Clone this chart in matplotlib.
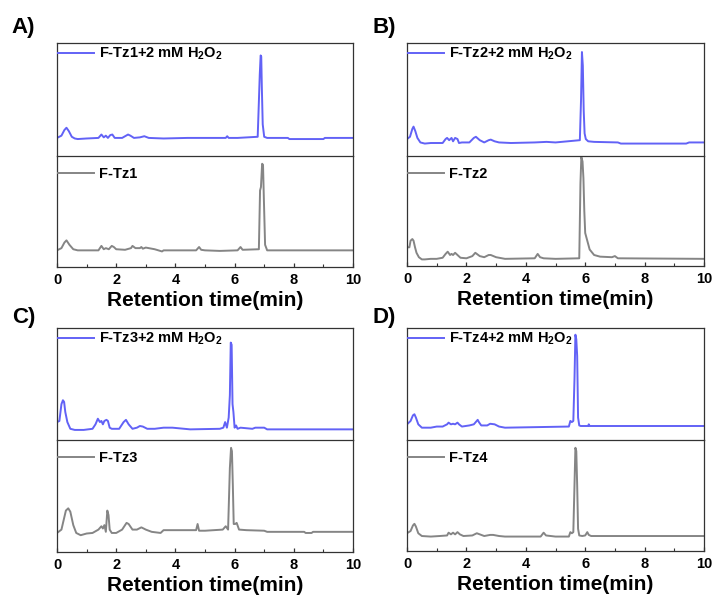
import matplotlib
matplotlib.use("Agg")
import matplotlib.pyplot as plt

plt.rcParams['font.family'] = ['Liberation Sans', 'DejaVu Sans']
plt.rcParams['font.weight'] = 'bold'
plt.rcParams['mathtext.fontset'] = 'custom'
plt.rcParams['mathtext.rm'] = 'Liberation Sans:bold'
plt.rcParams['mathtext.it'] = 'Liberation Sans:bold'
plt.rcParams['mathtext.bf'] = 'Liberation Sans:bold'

BLUE = '#6262f6'
GRAY = '#858585'

# HPLC traces, intensity normalised to each sub-panel (0..1)
# A) F-Tz1
a_h2o2_t = [0, 0.15, 0.25, 0.32, 0.4, 0.5, 0.6, 0.7, 1.0, 1.4, 1.5, 1.58, 1.65, 1.72, 1.8, 1.87, 1.95, 2.2, 2.4,
            2.48, 2.6, 2.8, 2.95, 3.1, 3.6, 4.4, 5.7, 5.75, 5.8, 6.1, 6.78, 6.82, 6.85, 6.88, 6.9, 6.92, 6.95,
            7.0, 7.1, 7.8, 7.85, 9.0, 9.05, 10]
a_h2o2_y = [0.16, 0.18, 0.23, 0.25, 0.22, 0.17, 0.155, 0.15, 0.155, 0.16, 0.19, 0.165, 0.18, 0.16, 0.185, 0.19,
            0.16, 0.16, 0.19, 0.18, 0.16, 0.165, 0.175, 0.16, 0.155, 0.16, 0.16, 0.175, 0.16, 0.16, 0.17, 0.48,
            0.72, 0.89, 0.88, 0.61, 0.28, 0.17, 0.16, 0.16, 0.15, 0.15, 0.16, 0.16]
a_ctrl_t = [0, 0.15, 0.25, 0.32, 0.42, 0.55, 0.7, 1.0, 1.4, 1.5, 1.58, 1.65, 1.75, 1.85, 1.92, 2.0, 2.3, 2.5, 2.55,
            2.65, 2.8, 2.85, 2.9, 3.0, 3.1, 3.3, 3.55, 3.6, 4.7, 4.8, 4.87, 5.0, 5.5, 6.1, 6.2, 6.27, 6.82, 6.86,
            6.89, 6.93, 6.96, 6.99, 7.03, 7.1, 10]
a_ctrl_y = [0.15, 0.17, 0.22, 0.24, 0.2, 0.16, 0.15, 0.15, 0.15, 0.19, 0.16, 0.17, 0.16, 0.19, 0.18, 0.16, 0.155,
            0.17, 0.19, 0.17, 0.17, 0.18, 0.165, 0.175, 0.17, 0.16, 0.14, 0.15, 0.15, 0.18, 0.155, 0.15, 0.145,
            0.15, 0.18, 0.155, 0.16, 0.69, 0.72, 0.93, 0.92, 0.6, 0.2, 0.15, 0.15]

# B) F-Tz2
b_h2o2_t = [0, 0.1, 0.18, 0.22, 0.28, 0.35, 0.45, 0.6, 0.8, 1.2, 1.3, 1.35, 1.42, 1.5, 1.55, 1.62, 1.7, 1.75, 1.85,
            2.1, 2.25, 2.32, 2.45, 2.6, 2.75, 2.82, 2.95, 3.1, 3.5, 4.3, 4.7, 5.0, 5.82, 5.86, 5.89, 5.92, 5.95,
            5.98, 6.02, 6.1, 6.3, 7.1, 7.2, 9.4, 9.5, 10]
b_h2o2_y = [0.15, 0.17, 0.24, 0.26, 0.22, 0.16, 0.12, 0.11, 0.115, 0.115, 0.15, 0.16, 0.14, 0.16, 0.13, 0.16, 0.15,
            0.115, 0.12, 0.12, 0.16, 0.17, 0.14, 0.12, 0.14, 0.145, 0.13, 0.12, 0.115, 0.12, 0.125, 0.12, 0.14,
            0.5, 0.92, 0.8, 0.4, 0.2, 0.15, 0.13, 0.125, 0.12, 0.11, 0.11, 0.12, 0.12]
b_ctrl_t = [0, 0.08, 0.12, 0.18, 0.22, 0.27, 0.32, 0.4, 0.5, 0.6, 0.8, 1.0, 1.2, 1.3, 1.37, 1.45, 1.5, 1.55, 1.62,
            1.7, 1.8, 2.0, 2.2, 2.3, 2.45, 2.6, 2.75, 2.82, 3.0, 3.3, 4.3, 4.4, 4.48, 4.6, 5.0, 5.8, 5.84, 5.87,
            5.91, 5.94, 5.97, 6.0, 6.05, 6.15, 6.3, 6.5, 6.9, 7.0, 7.1, 10]
b_ctrl_y = [0.17, 0.17, 0.23, 0.245, 0.23, 0.17, 0.12, 0.08, 0.06, 0.06, 0.065, 0.065, 0.075, 0.11, 0.13, 0.1,
            0.11, 0.1, 0.12, 0.1, 0.075, 0.07, 0.09, 0.12, 0.09, 0.08, 0.1, 0.1, 0.08, 0.065, 0.07, 0.11, 0.08,
            0.07, 0.065, 0.07, 0.75, 0.99, 0.95, 0.8, 0.5, 0.3, 0.25, 0.15, 0.1, 0.085, 0.08, 0.09, 0.07, 0.065]

# C) F-Tz3
c_h2o2_t = [0, 0.08, 0.15, 0.2, 0.24, 0.28, 0.35, 0.45, 0.6, 0.9, 1.2, 1.3, 1.38, 1.45, 1.5, 1.55, 1.6, 1.67, 1.72,
            1.78, 1.85, 2.1, 2.25, 2.33, 2.42, 2.55, 2.7, 2.8, 2.9, 3.05, 3.3, 3.6, 3.9, 4.5, 5.5, 5.62, 5.68,
            5.74, 5.8, 5.84, 5.87, 5.9, 5.93, 5.96, 6.0, 6.05, 6.1, 6.2, 6.6, 6.7, 7.0, 7.1, 10]
c_h2o2_y = [0.16, 0.17, 0.32, 0.355, 0.34, 0.25, 0.16, 0.1, 0.09, 0.09, 0.1, 0.14, 0.19, 0.16, 0.17, 0.14, 0.17,
            0.18, 0.17, 0.11, 0.1, 0.1, 0.16, 0.18, 0.14, 0.1, 0.11, 0.125, 0.12, 0.1, 0.1, 0.11, 0.11, 0.095, 0.1,
            0.11, 0.16, 0.11, 0.2, 0.4, 0.87, 0.85, 0.32, 0.25, 0.11, 0.13, 0.1, 0.11, 0.1, 0.11, 0.11, 0.095,
            0.095]
c_ctrl_t = [0, 0.15, 0.3, 0.38, 0.45, 0.55, 0.65, 0.8, 1.0, 1.2, 1.4, 1.5, 1.55, 1.6, 1.65, 1.7, 1.74, 1.78, 1.85,
            2.0, 2.2, 2.35, 2.42, 2.55, 2.7, 2.85, 3.0, 3.2, 3.5, 3.6, 4.7, 4.75, 4.8, 5.0, 5.6, 5.7, 5.78, 5.84,
            5.88, 5.91, 5.94, 5.97, 6.02, 6.07, 6.15, 6.4, 7.0, 7.1, 8.35, 8.4, 8.6, 8.65, 10]
c_ctrl_y = [0.17, 0.2, 0.37, 0.39, 0.36, 0.24, 0.17, 0.15, 0.165, 0.17, 0.2, 0.23, 0.21, 0.24, 0.18, 0.37, 0.33,
            0.2, 0.17, 0.17, 0.2, 0.26, 0.25, 0.2, 0.2, 0.22, 0.2, 0.18, 0.17, 0.195, 0.195, 0.25, 0.19, 0.19, 0.2,
            0.23, 0.2, 0.75, 0.93, 0.9, 0.6, 0.25, 0.25, 0.26, 0.2, 0.195, 0.19, 0.18, 0.18, 0.17, 0.17, 0.18,
            0.18]

# D) F-Tz4
d_h2o2_t = [0, 0.12, 0.2, 0.25, 0.3, 0.38, 0.5, 0.8, 1.0, 1.2, 1.35, 1.4, 1.48, 1.55, 1.62, 1.7, 1.75, 1.85, 2.1,
            2.25, 2.38, 2.42, 2.5, 2.7, 2.8, 2.95, 3.1, 3.3, 5.45, 5.5, 5.55, 5.6, 5.64, 5.67, 5.7, 5.73, 5.76,
            5.8, 5.85, 6.1, 6.12, 6.15, 10]
d_h2o2_y = [0.14, 0.17, 0.22, 0.23, 0.2, 0.14, 0.11, 0.11, 0.12, 0.12, 0.14, 0.155, 0.14, 0.145, 0.14, 0.155, 0.14,
            0.12, 0.13, 0.14, 0.18, 0.16, 0.13, 0.13, 0.145, 0.14, 0.12, 0.11, 0.12, 0.17, 0.16, 0.17, 0.55, 0.94,
            0.9, 0.75, 0.2, 0.13, 0.125, 0.125, 0.14, 0.125, 0.125]
d_ctrl_t = [0, 0.12, 0.2, 0.25, 0.3, 0.38, 0.5, 0.8, 1.1, 1.35, 1.4, 1.48, 1.55, 1.62, 1.7, 1.78, 1.9, 2.2, 2.35,
            2.45, 2.6, 2.8, 2.9, 3.1, 3.3, 4.5, 4.6, 4.68, 5.0, 5.45, 5.5, 5.55, 5.6, 5.64, 5.67, 5.7, 5.73, 5.76,
            5.8, 5.9, 6.0, 6.07, 6.12, 6.2, 10]
d_ctrl_y = [0.16, 0.18, 0.23, 0.245, 0.22, 0.16, 0.135, 0.13, 0.135, 0.14, 0.165, 0.15, 0.165, 0.15, 0.17, 0.15,
            0.135, 0.14, 0.16, 0.15, 0.135, 0.145, 0.145, 0.135, 0.13, 0.13, 0.165, 0.14, 0.13, 0.13, 0.17, 0.16,
            0.17, 0.6, 0.93, 0.9, 0.59, 0.2, 0.14, 0.135, 0.14, 0.17, 0.145, 0.135, 0.135]

panel_tags = ['A)', 'B)', 'C)', 'D)']
compounds = ['F-Tz1', 'F-Tz2', 'F-Tz3', 'F-Tz4']
h2o2_traces = [(a_h2o2_t, a_h2o2_y), (b_h2o2_t, b_h2o2_y), (c_h2o2_t, c_h2o2_y), (d_h2o2_t, d_h2o2_y)]
ctrl_traces = [(a_ctrl_t, a_ctrl_y), (b_ctrl_t, b_ctrl_y), (c_ctrl_t, c_ctrl_y), (d_ctrl_t, d_ctrl_y)]
xticks = [0, 2, 4, 6, 8, 10]

W, H = 712, 596
fig = plt.figure(figsize=(W / 100, H / 100), dpi=100)

# pixel boxes: left, right, top, divider, bottom
boxes = [(57, 353, 43, 156, 267), (407, 704, 43, 156, 266),
         (57, 353, 328, 440, 552), (407, 704, 328, 440, 551)]
tag_pos = [(11, 28), (372, 28), (12, 318), (372, 318)]


def frame(ax):
    for s in ax.spines.values():
        s.set_color('#333333')
        s.set_linewidth(0.9)
    ax.set_xlim(0, 10)
    ax.set_ylim(0, 1)
    ax.set_yticks([])


def add_legend(ax, drop_px):
    h = ax.get_position().height * H
    ax.legend(loc='upper left', bbox_to_anchor=(0, 1 - drop_px / h), frameon=False, borderaxespad=0,
              borderpad=0.05, handlelength=2.5, handletextpad=0.35,
              prop={'weight': 'bold', 'size': 10.5})


for i in range(4):
    l, r, t, m, b = boxes[i]
    ax_top = fig.add_axes([l / W, 1 - m / H, (r - l) / W, (m - t) / H])
    ax_bot = fig.add_axes([l / W, 1 - b / H, (r - l) / W, (b - m) / H])

    ax_top.plot(h2o2_traces[i][0], h2o2_traces[i][1], color=BLUE, lw=1.4,
                label=compounds[i] + r'+2 mM H$_2$O$_2$')
    ax_bot.plot(ctrl_traces[i][0], ctrl_traces[i][1], color=GRAY, lw=1.4, label=compounds[i])

    frame(ax_top)
    frame(ax_bot)
    ax_top.set_xticks([])
    ax_top.spines['bottom'].set_visible(False)

    ax_bot.set_xticks(xticks)
    ax_bot.set_xticks(range(1, 10, 2), minor=True)
    ax_bot.tick_params(axis='x', which='major', direction='in', length=3, width=0.9, color='#333333',
                       labelsize=10.5, pad=4)
    ax_bot.tick_params(axis='x', which='minor', direction='in', length=2, width=0.8, color='#333333')
    for lab in ax_bot.get_xticklabels():
        lab.set_fontweight('bold')
    ax_bot.set_xlabel('Retention time(min)', fontsize=15, fontweight='bold', labelpad=3)

    add_legend(ax_top, 2)
    add_legend(ax_bot, 10)

    fig.text(tag_pos[i][0] / W, 1 - tag_pos[i][1] / H, panel_tags[i], fontsize=16, fontweight='bold',
             ha='left', va='center')

fig.savefig('out.png', dpi=100)
